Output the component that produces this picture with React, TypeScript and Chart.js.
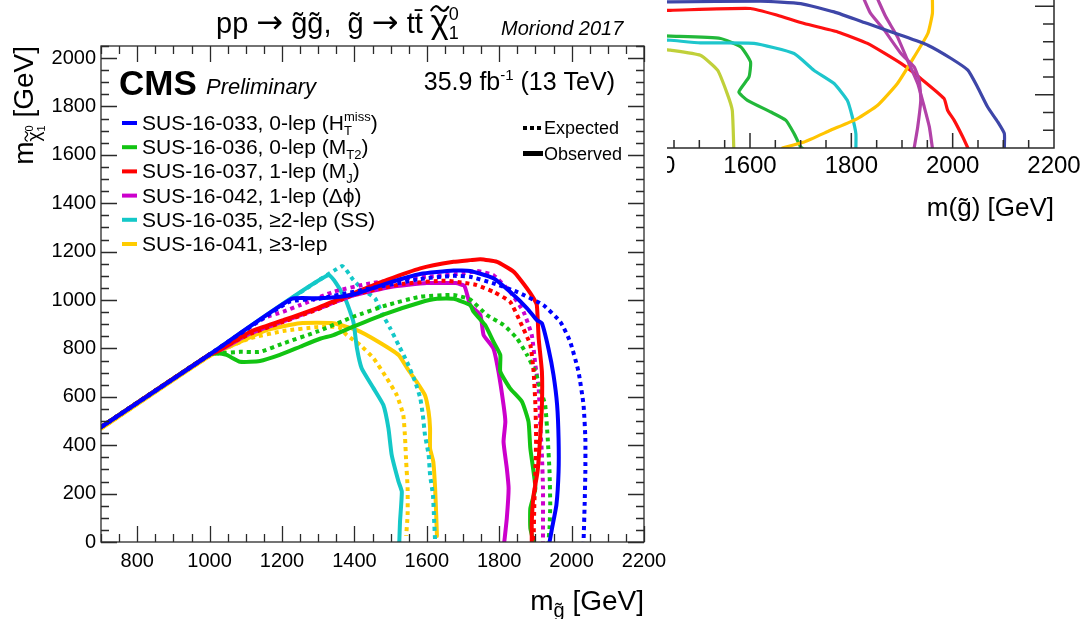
import { useEffect, useRef } from 'react';
import { Chart, registerables } from 'chart.js';

Chart.register(...registerables);

const FAMILY = "'Liberation Sans', Arial, Helvetica, sans-serif";
const SYMBOLS = "'DejaVu Sans', 'Liberation Sans', sans-serif";
const AXIS = '#2a2a2a';

// ---------- main exclusion plot: m(gluino) vs m(LSP), GeV ----------
const X_TICKS = [800, 1000, 1200, 1400, 1600, 1800, 2000, 2200];
const Y_TICKS = [0, 200, 400, 600, 800, 1000, 1200, 1400, 1600, 1800, 2000];

const sus033Obs: [number, number][] = [
  [700, 475], [1000, 775], [1227, 1005], [1300, 1007], [1360, 1014], [1400, 1024], [1490, 1069],
  [1582, 1108], [1674, 1122], [1720, 1120], [1784, 1090], [1830, 1034], [1877, 966], [1904, 917],
  [1918, 904], [1936, 800], [1950, 690], [1960, 566], [1964, 428], [1964, 291], [1958, 153],
  [1946, 57], [1939, 0],
];
const sus033Exp: [number, number][] = [
  [700, 475], [1000, 775], [1220, 993], [1300, 1005], [1400, 1035], [1443, 1048], [1582, 1087],
  [1674, 1100], [1720, 1096], [1784, 1069], [1849, 1034], [1922, 979], [1969, 910], [1996, 828],
  [2019, 704], [2033, 566], [2038, 428], [2038, 291], [2036, 153], [2033, 0],
];
const sus036Obs: [number, number][] = [
  [700, 475], [1000, 775], [1020, 780], [1047, 773], [1084, 745], [1139, 748], [1194, 773],
  [1250, 807], [1305, 840], [1342, 855], [1397, 890], [1490, 945], [1582, 990], [1628, 1005],
  [1674, 1005], [1720, 979], [1729, 952], [1761, 897], [1784, 828], [1803, 773], [1803, 704],
  [1830, 635], [1863, 580], [1881, 497], [1886, 387], [1900, 222], [1886, 139], [1886, 57],
  [1895, 0],
];
const sus036Exp: [number, number][] = [
  [700, 475], [1000, 775], [1029, 780], [1084, 786], [1139, 786], [1204, 821], [1296, 869],
  [1397, 931], [1490, 979], [1582, 1014], [1674, 1021], [1720, 1002], [1766, 938], [1812, 897],
  [1849, 842], [1877, 773], [1900, 704], [1913, 635], [1927, 566], [1934, 428], [1939, 291],
  [1941, 153], [1939, 57], [1936, 0],
];
const sus037Obs: [number, number][] = [
  [700, 475], [1000, 775], [1020, 786], [1112, 869], [1204, 917], [1296, 966], [1397, 1028],
  [1490, 1083], [1582, 1131], [1674, 1158], [1720, 1165], [1748, 1169], [1794, 1158],
  [1840, 1117], [1877, 1048], [1895, 1007], [1904, 979], [1909, 842], [1918, 704], [1918, 566],
  [1913, 428], [1906, 291], [1895, 194], [1890, 84], [1890, 0],
];
const sus037Exp: [number, number][] = [
  [700, 475], [1000, 775], [1112, 860], [1204, 910], [1296, 960], [1397, 1021], [1535, 1067],
  [1650, 1080], [1700, 1072], [1738, 1062], [1784, 1034], [1830, 993], [1858, 910], [1886, 814],
  [1895, 704], [1900, 566], [1902, 428], [1900, 291], [1897, 153], [1895, 0],
];
const sus042Obs: [number, number][] = [
  [700, 475], [1000, 775], [1020, 785], [1112, 862], [1204, 912], [1296, 962], [1400, 1020],
  [1500, 1054], [1600, 1070], [1680, 1070], [1704, 1058], [1720, 979], [1748, 938], [1757, 855],
  [1784, 800], [1798, 704], [1812, 566], [1817, 497], [1812, 414], [1821, 305], [1826, 222],
  [1821, 98], [1814, 0],
];
const sus042Exp: [number, number][] = [
  [700, 475], [1000, 775], [1150, 925], [1204, 952], [1250, 979], [1342, 1034], [1443, 1069],
  [1535, 1087], [1628, 1100], [1701, 1110], [1738, 1120], [1784, 1103], [1830, 1034],
  [1867, 952], [1890, 855], [1900, 731], [1909, 635], [1913, 497], [1918, 360], [1921, 222],
  [1921, 84], [1921, 0],
];
const sus035Obs: [number, number][] = [
  [700, 475], [1000, 775], [1328, 1103], [1374, 1007], [1397, 911], [1407, 801], [1420, 718],
  [1453, 635], [1480, 566], [1494, 470], [1503, 360], [1522, 249], [1531, 208], [1526, 84],
  [1524, 0],
];
const sus035Exp: [number, number][] = [
  [700, 475], [1000, 775], [1365, 1140], [1397, 1083], [1425, 1041], [1457, 1007], [1476, 945],
  [1499, 883], [1522, 814], [1545, 745], [1568, 662], [1582, 594], [1589, 525], [1595, 442],
  [1605, 360], [1609, 277], [1617, 194], [1620, 98], [1623, 0],
];
const sus041Obs: [number, number][] = [
  [700, 469], [1000, 769], [1065, 814], [1158, 876], [1250, 904], [1342, 904], [1407, 876],
  [1466, 828], [1522, 773], [1549, 711], [1572, 662], [1595, 607], [1605, 538], [1609, 470],
  [1609, 387], [1618, 332], [1623, 222], [1626, 112], [1628, 25],
];
const sus041Exp: [number, number][] = [
  [700, 469], [1000, 769], [1112, 842], [1204, 872], [1296, 888], [1356, 888], [1379, 855],
  [1416, 814], [1453, 759], [1490, 676], [1517, 607], [1535, 525], [1540, 428], [1543, 332],
  [1547, 222], [1547, 112], [1543, 25],
];

const LEGEND_COLORS = ['#0000ff', '#12c412', '#ff0000', '#cc00cc', '#14c8c8', '#ffcc00'];

// ---------- inset: second summary panel, upper right ----------
const INSET_X_TICKS = [1400, 1600, 1800, 2000, 2200];

const insetNavy: [number, number][] = [
  [1420, 1026], [1443, 1024], [1621, 1028], [1700, 1015], [1766, 968], [1832, 902], [1898, 836],
  [1951, 780], [1997, 705], [2030, 639], [2049, 544], [2069, 431], [2089, 347], [2102, 281],
  [2102, 200],
];
const insetRed: [number, number][] = [
  [1420, 977], [1443, 977], [1601, 987], [1654, 949], [1707, 902], [1773, 855], [1832, 790],
  [1898, 677], [1937, 592], [1983, 479], [1990, 413], [2003, 356], [2020, 262], [2030, 200],
];
const insetGreen: [number, number][] = [
  [1420, 833], [1443, 831], [1542, 818], [1582, 770], [1601, 686], [1598, 601], [1578, 516],
  [1595, 469], [1641, 403], [1671, 356], [1687, 281], [1700, 206], [1703, 200],
];
const insetCyan: [number, number][] = [
  [1420, 810], [1443, 808], [1502, 793], [1608, 790], [1687, 733], [1726, 639], [1766, 564],
  [1792, 469], [1802, 375], [1809, 281], [1809, 200],
];
const insetLime: [number, number][] = [
  [1420, 758], [1443, 752], [1502, 723], [1536, 639], [1555, 507], [1565, 413], [1568, 200],
];
const insetGold: [number, number][] = [
  [1664, 200], [1707, 234], [1759, 300], [1812, 366], [1852, 441], [1891, 564], [1924, 714],
  [1951, 846], [1960, 959], [1960, 1040],
];
const insetPurpleA: [number, number][] = [
  [1825, 1040], [1838, 959], [1865, 865], [1898, 733], [1924, 657], [1934, 582], [1937, 469],
  [1931, 319], [1924, 200],
];
const insetPurpleB: [number, number][] = [
  [1852, 1040], [1868, 940], [1891, 827], [1911, 695], [1931, 564], [1944, 431], [1954, 319],
  [1960, 200],
];

// ---------- rich text helper (sub/superscripts, tilde accents) ----------
type Run = {
  t: string;
  size: number;
  italic?: boolean;
  bold?: boolean;
  dy?: number;
  stack?: boolean;
  family?: string;
  tilde?: boolean;
};

const fontOf = (r: Run) =>
  `${r.italic ? 'italic ' : ''}${r.bold ? 'bold ' : ''}${r.size}px ${r.family ?? FAMILY}`;

function drawTilde(ctx: CanvasRenderingContext2D, cx: number, y: number, w: number, lw: number) {
  const a = w * 0.2;
  const x0 = cx - w / 2;
  ctx.save();
  ctx.strokeStyle = ctx.fillStyle as string;
  ctx.lineWidth = lw;
  ctx.lineCap = 'round';
  ctx.beginPath();
  ctx.moveTo(x0, y + a * 0.5);
  ctx.quadraticCurveTo(x0 + w * 0.25, y - a * 1.6, x0 + w * 0.5, y);
  ctx.quadraticCurveTo(x0 + w * 0.75, y + a * 1.6, x0 + w, y - a * 0.5);
  ctx.stroke();
  ctx.restore();
}

function drawRuns(
  ctx: CanvasRenderingContext2D,
  runs: Run[],
  x: number,
  y: number,
  align: 'left' | 'right' | 'center',
  color = '#000',
) {
  ctx.save();
  ctx.textAlign = 'left';
  ctx.textBaseline = 'alphabetic';
  ctx.fillStyle = color;
  const placed: { r: Run; x: number; w: number }[] = [];
  let cursor = 0;
  let lastStart = 0;
  let lastEnd = 0;
  for (const r of runs) {
    ctx.font = fontOf(r);
    const w = ctx.measureText(r.t).width;
    const start = r.stack ? lastStart : cursor;
    placed.push({ r, x: start, w });
    if (r.stack) {
      cursor = Math.max(lastEnd, start + w);
    } else {
      lastStart = start;
      cursor = start + w;
    }
    lastEnd = cursor;
  }
  const off = align === 'left' ? 0 : align === 'right' ? -cursor : -cursor / 2;
  for (const p of placed) {
    ctx.font = fontOf(p.r);
    const bx = x + off + p.x;
    const by = y + (p.r.dy ?? 0);
    ctx.fillText(p.r.t, bx, by);
    if (p.r.tilde) {
      drawTilde(ctx, bx + p.w / 2, by - p.r.size * 0.72, p.r.size * 0.5, Math.max(1, p.r.size * 0.065));
    }
  }
  ctx.restore();
}

const TITLE: Run[] = [
  { t: 'pp ', size: 29 },
  { t: '\u2192', size: 32, family: SYMBOLS },
  { t: ' g\u0303g\u0303,  g\u0303 ', size: 29 },
  { t: '\u2192', size: 32, family: SYMBOLS },
  { t: ' tt\u0304 ', size: 29 },
  { t: '\u03c7', size: 34, tilde: true },
  { t: '0', size: 18, dy: -13 },
  { t: '1', size: 18, dy: 6, stack: true },
];
const MORIOND: Run[] = [{ t: 'Moriond 2017', size: 20, italic: true }];
const CMS: Run[] = [{ t: 'CMS', size: 35, bold: true }];
const PRELIM: Run[] = [{ t: 'Preliminary', size: 22, italic: true }];
const LUMI: Run[] = [
  { t: '35.9 fb', size: 25 },
  { t: '-1', size: 15, dy: -10 },
  { t: ' (13 TeV)', size: 25 },
];
const LEGEND_TEXT: Run[][] = [
  [
    { t: 'SUS-16-033, 0-lep (H', size: 21 },
    { t: 'miss', size: 13, dy: -9 },
    { t: 'T', size: 13, dy: 5, stack: true },
    { t: ')', size: 21 },
  ],
  [{ t: 'SUS-16-036, 0-lep (M', size: 21 }, { t: 'T2', size: 13, dy: 5 }, { t: ')', size: 21 }],
  [{ t: 'SUS-16-037, 1-lep (M', size: 21 }, { t: 'J', size: 13, dy: 5 }, { t: ')', size: 21 }],
  [{ t: 'SUS-16-042, 1-lep (\u0394\u03d5)', size: 21 }],
  [{ t: 'SUS-16-035, \u22652-lep (SS)', size: 21 }],
  [{ t: 'SUS-16-041, \u22653-lep', size: 21 }],
];
const EXPECTED: Run[] = [{ t: 'Expected', size: 18 }];
const OBSERVED: Run[] = [{ t: 'Observed', size: 18 }];
const X_TITLE: Run[] = [
  { t: 'm', size: 28 },
  { t: 'g\u0303', size: 20, dy: 7 },
  { t: ' [GeV]', size: 28 },
];
const Y_TITLE: Run[] = [
  { t: 'm', size: 28 },
  { t: '\u03c7', size: 19, dy: 7, tilde: true },
  { t: '0', size: 11, dy: 0 },
  { t: '1', size: 11, dy: 12, stack: true },
  { t: ' [GeV]', size: 28 },
];
const INSET_TITLE: Run[] = [{ t: 'm(g\u0303) [GeV]', size: 26 }];

// ---------- plugins ----------
const mainDecor = {
  id: 'mainDecor',
  afterDatasetsDraw(chart: any) {
    const { ctx, chartArea: a, scales } = chart;
    const xs = scales.x;
    const ys = scales.y;
    ctx.save();
    ctx.strokeStyle = AXIS;
    ctx.lineWidth = 1.3;
    ctx.strokeRect(a.left, a.top, a.right - a.left, a.bottom - a.top);
    ctx.beginPath();
    for (let v = 700; v <= 2200; v += 50) {
      const px = Math.round(xs.getPixelForValue(v)) + 0.5;
      const len = v % 200 === 0 ? 16 : 8;
      ctx.moveTo(px, a.bottom);
      ctx.lineTo(px, a.bottom - len);
      ctx.moveTo(px, a.top);
      ctx.lineTo(px, a.top + len);
    }
    for (let v = 0; v <= 2050; v += 50) {
      const py = Math.round(ys.getPixelForValue(v)) + 0.5;
      const len = v % 200 === 0 ? 16 : 8;
      ctx.moveTo(a.left, py);
      ctx.lineTo(a.left + len, py);
      ctx.moveTo(a.right, py);
      ctx.lineTo(a.right - len, py);
    }
    ctx.stroke();
    ctx.restore();
  },
  afterDraw(chart: any) {
    const { ctx, chartArea: a } = chart;
    drawRuns(ctx, TITLE, 216, 33, 'left');
    drawRuns(ctx, MORIOND, 501, 35, 'left');
    drawRuns(ctx, CMS, 119, 95, 'left');
    drawRuns(ctx, PRELIM, 206, 94, 'left');
    drawRuns(ctx, LUMI, 615, 90, 'right');

    ctx.save();
    LEGEND_TEXT.forEach((runs, i) => {
      const base = 130 + i * 24.2;
      ctx.strokeStyle = LEGEND_COLORS[i];
      ctx.lineWidth = 4;
      ctx.beginPath();
      ctx.moveTo(122, base - 7);
      ctx.lineTo(137, base - 7);
      ctx.stroke();
      drawRuns(ctx, runs, 142, base, 'left');
    });
    ctx.strokeStyle = '#000';
    ctx.lineWidth = 4;
    ctx.setLineDash([4, 3]);
    ctx.beginPath();
    ctx.moveTo(523, 128);
    ctx.lineTo(541, 128);
    ctx.stroke();
    ctx.setLineDash([]);
    ctx.lineWidth = 5;
    ctx.beginPath();
    ctx.moveTo(523, 153.5);
    ctx.lineTo(543, 153.5);
    ctx.stroke();
    ctx.restore();
    drawRuns(ctx, EXPECTED, 544, 134, 'left');
    drawRuns(ctx, OBSERVED, 544, 160, 'left');

    drawRuns(ctx, X_TITLE, a.right, 610, 'right');
    ctx.save();
    ctx.translate(33, a.top);
    ctx.rotate(-Math.PI / 2);
    drawRuns(ctx, Y_TITLE, 0, 0, 'right');
    ctx.restore();
  },
};

const insetDecor = {
  id: 'insetDecor',
  afterDatasetsDraw(chart: any) {
    const { ctx, chartArea: a, scales } = chart;
    const xs = scales.x;
    const ys = scales.y;
    ctx.save();
    ctx.strokeStyle = AXIS;
    ctx.lineWidth = 1.5;
    ctx.beginPath();
    ctx.moveTo(a.left, a.bottom);
    ctx.lineTo(a.right, a.bottom);
    ctx.lineTo(a.right, a.top - 2);
    for (let v = 1300; v <= 2200; v += 50) {
      const px = xs.getPixelForValue(v);
      const len = v % 200 === 0 ? 15 : 8;
      ctx.moveTo(px, a.bottom);
      ctx.lineTo(px, a.bottom - len);
    }
    for (let v = 300; v <= 1000; v += 100) {
      const py = ys.getPixelForValue(v);
      const len = v % 500 === 0 ? 19 : 11;
      ctx.moveTo(a.right, py);
      ctx.lineTo(a.right - len, py);
    }
    ctx.stroke();
    ctx.fillStyle = '#000';
    ctx.font = `24px ${FAMILY}`;
    ctx.textAlign = 'center';
    ctx.textBaseline = 'alphabetic';
    for (const v of INSET_X_TICKS) ctx.fillText(String(v), xs.getPixelForValue(v), a.bottom + 25);
    ctx.restore();
    drawRuns(ctx, INSET_TITLE, a.right, a.bottom + 68, 'right');
  },
};

const toPts = (pts: [number, number][]) => pts.map(([x, y]) => ({ x, y }));

function line(pts: [number, number][], color: string, width: number, dashed: boolean) {
  return {
    data: toPts(pts),
    borderColor: color,
    backgroundColor: color,
    borderWidth: width,
    borderDash: dashed ? [4, 4] : [],
    borderCapStyle: dashed ? 'butt' : 'round',
    borderJoinStyle: 'round',
    showLine: true,
    pointRadius: 0,
    pointHoverRadius: 0,
    tension: 0.15,
    fill: false,
  };
}

export default function App() {
  const mainRef = useRef<HTMLCanvasElement>(null);
  const insetRef = useRef<HTMLCanvasElement>(null);

  useEffect(() => {
    Chart.defaults.font.family = FAMILY;
    const [blue, green, red, magenta, cyan, yellow] = LEGEND_COLORS;

    const main = new Chart(mainRef.current as HTMLCanvasElement, {
      type: 'scatter',
      data: {
        datasets: [
          line(sus033Obs, blue, 4, false),
          line(sus033Exp, blue, 4, true),
          line(sus037Obs, red, 4, false),
          line(sus037Exp, red, 4, true),
          line(sus036Obs, green, 4, false),
          line(sus036Exp, green, 4, true),
          line(sus042Obs, magenta, 4, false),
          line(sus042Exp, magenta, 4, true),
          line(sus035Obs, cyan, 4, false),
          line(sus035Exp, cyan, 4, true),
          line(sus041Obs, yellow, 4, false),
          line(sus041Exp, yellow, 4, true),
        ] as any,
      },
      options: {
        animation: false,
        responsive: false,
        maintainAspectRatio: false,
        events: [],
        layout: { padding: { left: 0, right: 36, top: 46, bottom: 0 } },
        plugins: { legend: { display: false }, tooltip: { enabled: false }, title: { display: false } },
        scales: {
          x: {
            type: 'linear',
            min: 700,
            max: 2200,
            afterBuildTicks: (s: any) => {
              s.ticks = X_TICKS.map((value) => ({ value }));
            },
            afterFit: (s: any) => {
              s.height = 77;
            },
            grid: { display: false, drawTicks: false },
            border: { display: false },
            ticks: {
              color: '#000',
              font: { size: 20, family: FAMILY },
              padding: 7,
              maxRotation: 0,
              autoSkip: false,
              callback: (v: any) => String(v),
            },
          },
          y: {
            type: 'linear',
            min: 0,
            max: 2050,
            afterBuildTicks: (s: any) => {
              s.ticks = Y_TICKS.map((value) => ({ value }));
            },
            afterFit: (s: any) => {
              s.width = 101;
            },
            grid: { display: false, drawTicks: false },
            border: { display: false },
            ticks: {
              color: '#000',
              font: { size: 20, family: FAMILY },
              padding: 5,
              autoSkip: false,
              callback: (v: any) => String(v),
            },
          },
        },
      },
      plugins: [mainDecor],
    });

    const inset = new Chart(insetRef.current as HTMLCanvasElement, {
      type: 'scatter',
      data: {
        datasets: [
          line(insetNavy, '#3e46a8', 3.2, false),
          line(insetPurpleA, '#b242a8', 3.2, false),
          line(insetPurpleB, '#b242a8', 3.2, false),
          line(insetGold, '#ffc400', 3.2, false),
          line(insetRed, '#ff1010', 3.2, false),
          line(insetCyan, '#1ec6cc', 3.2, false),
          line(insetGreen, '#22b83a', 3.2, false),
          line(insetLime, '#c0d03a', 3.2, false),
        ] as any,
      },
      options: {
        animation: false,
        responsive: false,
        maintainAspectRatio: false,
        events: [],
        layout: { padding: { left: 0, right: 36, top: 0, bottom: 92 } },
        plugins: { legend: { display: false }, tooltip: { enabled: false } },
        scales: {
          x: { type: 'linear', min: 1300, max: 2200, display: false },
          y: { type: 'linear', min: 200, max: 1035, display: false },
        },
      },
      plugins: [insetDecor],
    });

    return () => {
      main.destroy();
      inset.destroy();
    };
  }, []);

  return (
    <div
      style={{
        position: 'absolute',
        left: 0,
        top: 0,
        width: 1090,
        height: 619,
        background: '#fff',
        overflow: 'hidden',
      }}
    >
      <canvas
        ref={mainRef}
        width={680}
        height={619}
        style={{ position: 'absolute', left: 0, top: 0, width: 680, height: 619 }}
      />
      <div
        style={{
          position: 'absolute',
          left: 667,
          top: 0,
          width: 423,
          height: 240,
          overflow: 'hidden',
          background: '#fff',
        }}
      >
        <canvas
          ref={insetRef}
          width={492}
          height={240}
          style={{ position: 'absolute', left: -69, top: 0, width: 492, height: 240 }}
        />
      </div>
    </div>
  );
}
